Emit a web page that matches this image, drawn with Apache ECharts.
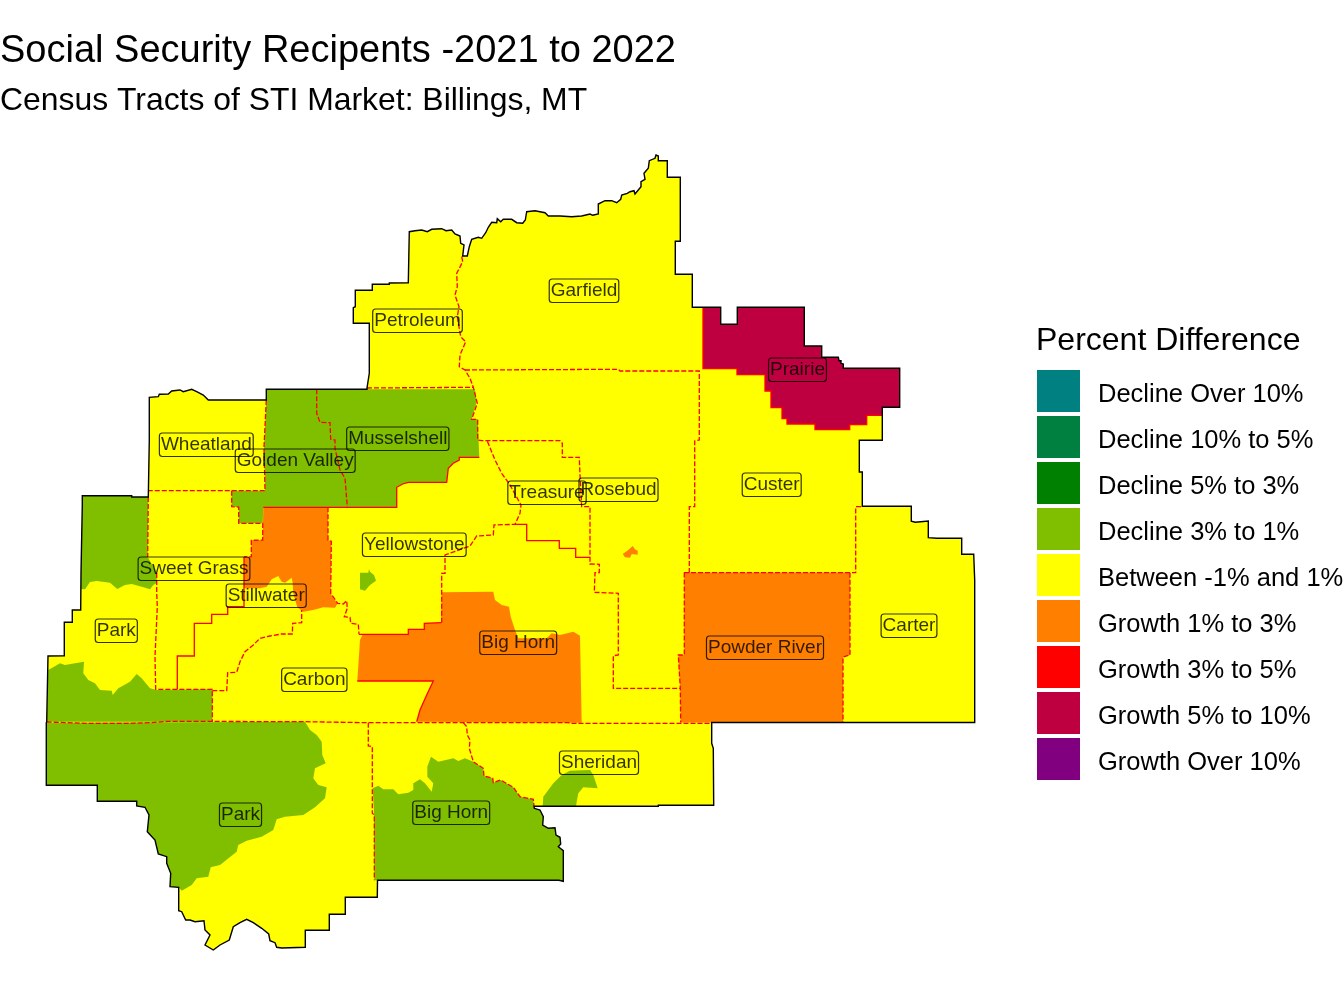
<!DOCTYPE html>
<html lang="en">
<head>
    <meta charset="utf-8">
    <title>Social Security Recipents</title>
    <script src="https://cdn.jsdelivr.net/npm/echarts@6/dist/echarts.min.js"></script>
    <style>
        html, body {margin: 0; padding: 0; background: #fff;}
        #main {width: 1344px; height: 1008px;}
    </style>
</head>
<body>
<div id="main"></div>
<script type="text/javascript">
    // legend classes, a region's value is an index into these
    var classLabels = ['Decline Over 10%', 'Decline 10% to 5%', 'Decline 5% to 3%', 'Decline 3% to 1%',
        'Between -1% and 1%', 'Growth 1% to 3%', 'Growth 3% to 5%', 'Growth 5% to 10%', 'Growth Over 10%'];
    var classColors = ['#008080', '#008040', '#008000', '#80BF00', '#FFFF00', '#FF8000', '#FF0000', '#BF0040', '#800080'];

    // map geometry, traced in map units
    var marketOutline = [[367,388],[369.3,373.3],[369.3,323.3],[353.3,323.3],[353.3,307.7],[355.3,306.7],[355.3,290.3],[372.3,290.3],[372.3,284.3],[389.3,284.3],[389.3,283],[408.3,282.7],[409.3,231.7],[415,230.7],[421.7,230],[427.3,231.7],[431.7,229.3],[441.7,228.7],[446,230.7],[451.7,230],[455,234],[460,236],[460.7,243.3],[464,245],[462.7,256],[467.3,256],[469.3,246.7],[471.7,239.3],[478.3,237.3],[481.7,238.3],[485.7,232.7],[488.3,227.3],[491.7,222.3],[496.7,222.7],[497.3,218.7],[500.7,221.7],[503.3,219.3],[511.7,219.3],[516.7,222.7],[522.7,223.3],[525.3,220],[526.7,211.7],[535,210.7],[545,212.7],[548.3,216],[560,216],[571.7,216.7],[581.7,216],[590,214],[592.7,215.3],[598.3,214],[598.3,204],[605,200.7],[611.7,200.7],[616.7,202.7],[620.7,199.3],[621.7,195],[627.3,193.3],[630,191.7],[634,190.7],[635,194],[638.3,190],[641,186.7],[641,181.7],[645,179.3],[644,173.3],[648.3,168.3],[649.3,160.7],[655,158.3],[656,155],[658.3,156],[658.3,160.7],[667.3,160.7],[667.3,177.3],[680.3,177.3],[680.3,241.3],[675.3,241.3],[675.3,274.3],[692.3,274.3],[692.3,307.3],[720.7,307.3],[720.7,324.3],[737.3,324.3],[737.3,307.3],[804.3,307.3],[804.3,346],[821.7,346],[821.7,357.3],[838.3,357.3],[839,360.7],[841,360.7],[841,363.3],[843.3,364],[843.3,368.3],[899.7,368.3],[899.7,407.3],[882.3,407.3],[882.3,440.3],[859.3,440.3],[859.3,472],[862.3,472],[862.3,506.3],[911.3,506.3],[911.3,521.3],[915.3,522.3],[928.3,521],[928.3,537.7],[936.7,538.3],[961.7,538.3],[961.7,554.3],[973.7,554.3],[974.7,580],[974.7,722.5],[711.7,722.5],[711.7,743.3],[713.3,748.3],[713.7,805.3],[658.3,805.3],[658.3,806.3],[534,806.3],[534.3,808.3],[540,810],[543.3,816.7],[542.7,825],[548.3,828.3],[555,827.7],[556,835],[560,837.3],[560.7,844],[558.3,846.7],[563.3,850.7],[563.3,881.3],[559,880.3],[377.5,880.3],[377.3,897.3],[345.3,897.3],[345.3,914.3],[329.3,914.3],[329.3,930.3],[305.3,930.3],[305.3,947.3],[281.7,948],[276.7,947.3],[275,942.7],[270,940.7],[268.7,934],[261.7,928.3],[253.3,922.7],[246.7,919.3],[240,922.7],[233.3,926.7],[229.3,940],[220,945],[213.3,950],[205,945],[210,935],[205,930],[204,920.7],[195,921.7],[190,920],[185.7,920],[181.7,911.7],[178.7,910.7],[178.7,887.3],[170,886.7],[170.7,873.3],[166.7,863.3],[166.7,856.7],[158.3,854],[155,840],[147.3,831.7],[149,815],[145,807.3],[136.7,806],[136.7,801.3],[97.3,801.3],[97.3,785.3],[46.3,785.3],[46.3,722.7],[46.7,721.7],[48,656],[64.3,655.7],[64.3,622.3],[72.3,622.3],[72.3,610],[80.7,610],[81,573.3],[82.3,505],[82.3,495.7],[131.7,495.7],[131.7,497],[148.3,497],[149.3,440],[149.3,397.3],[158.3,396.7],[159.3,394.3],[168.3,394],[171.7,391],[180,390],[183.3,391.7],[191.7,389.3],[196.7,391.7],[203.3,395],[208.3,400],[266.3,400],[266.3,389.3],[367,389.3]];
    var prairieArea = [[703,307.3],[720.7,307.3],[720.7,324.3],[737.3,324.3],[737.3,307.3],[804.3,307.3],[804.3,346],[821.7,346],[821.7,357.3],[838.3,357.3],[839,360.7],[841,360.7],[841,363.3],[843.3,364],[843.3,368.3],[899.7,368.3],[899.7,407.3],[882.3,407.3],[882.3,415.3],[866.7,415.3],[866.7,424.7],[849.7,424.7],[849.7,429.7],[815,429.7],[815,424],[787,424],[787,418.7],[782,418.7],[782,407.7],[771,407.7],[771,391],[765,391],[765,374.7],[737,374.7],[737,368.7],[703,368.7]];
    var musselshellArea = [[266.3,389.3],[475,389.3],[476.7,401.7],[471.7,419.3],[477.7,419.3],[479.3,457.3],[459.3,457.3],[459.3,460],[453.3,463.3],[448.3,468.3],[446.7,482.3],[408.3,482.3],[402.7,484],[396.7,487.3],[396.7,507.3],[263.3,507.3],[262.7,523.3],[238.7,523.3],[238.7,507],[231.7,506.7],[231.7,490.7],[265,490.7],[264,446.7],[266.3,400]];
    var stillwaterArea = [[263.3,507.3],[328,507.3],[328,540],[331.3,541.3],[330.7,593.3],[333.3,598.3],[337.7,603.3],[335,607.7],[323.3,607.3],[313.3,610],[303.3,611.7],[297.3,607.3],[293.3,593.3],[292.7,583.3],[291.7,577.7],[285,582.7],[281.7,581.7],[278.3,576],[271.7,579.3],[266.7,586.7],[260,588.3],[244,588.3],[244,557],[251.3,556.7],[251.3,540.3],[262.7,540]];
    var bigHornNorthArea = [[441.7,592.3],[493.3,591.7],[495,600],[501.7,605],[509,606.7],[510.7,616.7],[515,630],[518.3,638.3],[546.7,638.3],[551.7,633.3],[560,635],[573.3,631.7],[580,635.7],[581.7,722.7],[416.7,721.7],[420,710],[426.7,695],[433.3,681],[357.3,681],[360,640],[362.7,634.3],[408.3,634.3],[408.3,629.3],[424.3,629.3],[424.3,623.3],[441,622.7]];
    var powderRiverArea = [[684.3,572.5],[850,572.5],[850,655],[843,657],[843,722.5],[680.7,722.5],[680.3,688.3],[678.3,655],[684.3,655]];
    var rosebudSpot = [[622.7,554],[628.3,550],[632.7,546],[635,549.3],[637.7,550.7],[637.7,554.7],[631.7,554],[630,557.7],[625,557.3]];
    var yellowstoneSpot = [[360,572.7],[368.3,572.7],[369,569],[370,571.7],[374,575],[376,580.7],[370,585],[365,590.7],[360,589.3]];
    var sweetGrassArea = [[81,589],[81,573.3],[82.3,505],[82.3,495.7],[131.7,495.7],[131.7,497],[148.3,497],[147.7,557],[156.7,573],[156.7,583],[153.3,585],[150,589.3],[141.7,586.7],[131.7,584],[125,585],[117.3,589],[110,582.7],[96.7,581],[90,582],[85,589.3]];
    var parkNorthArea = [[48.3,670],[60,663.3],[65,665],[75,663.3],[84,661.7],[83.3,673.3],[88.3,680],[95,683.3],[100,690],[111.7,690.7],[112.7,695],[118.3,688.3],[130,681.7],[136.7,674],[141.7,678.3],[150,688.3],[156.7,690],[212.3,689.3],[212.3,721.7],[46.7,721.7]];
    var parkSouthArea = [[46.3,722.7],[305,721.7],[310,730],[316.7,735],[321.7,741.7],[322.3,755],[325.7,763.3],[315,768.3],[313.3,778.3],[318.3,785],[326.7,787.3],[325,798.3],[315,807.3],[303.3,815],[285,816.7],[276.7,819.3],[273.3,830],[261.7,836.7],[246.7,840.7],[238.3,845],[236.7,851.7],[220,865],[210.7,867.3],[208.3,876.7],[196.7,878.3],[191.7,885],[181.7,890.7],[178.7,887.3],[170,886.7],[170.7,873.3],[166.7,863.3],[166.7,856.7],[158.3,854],[155,840],[147.3,831.7],[149,815],[145,807.3],[136.7,806],[136.7,801.3],[97.3,801.3],[97.3,785.3],[46.3,785.3]];
    var bigHornSouthArea = [[372.7,788.3],[378.3,785.7],[383.3,789.3],[393.3,789.3],[398.3,794.3],[408.3,792.7],[413.3,790],[413.3,783.3],[420,779.3],[425,783.3],[431.7,791.7],[433.3,783.3],[427.3,776.7],[427.3,766.7],[431,756.7],[438.3,761.7],[453.3,758.3],[458.3,761],[465,758.3],[473.3,761.7],[483.3,768.3],[484,776],[492.7,778.3],[493.3,782.7],[500.7,780],[513.3,787.3],[520,796.7],[533.3,799.3],[534,806.3],[534.3,808.3],[540,810],[543.3,816.7],[542.7,825],[548.3,828.3],[555,827.7],[556,835],[560,837.3],[560.7,844],[558.3,846.7],[563.3,850.7],[563.3,881.3],[559,880.3],[374.3,880.3],[374,813.3]];
    var sheridanArea = [[542.7,806],[543.3,796.7],[553.3,783.3],[561.7,775],[570,770.7],[590,770],[593.3,775],[597.7,788.3],[583.3,787.3],[578.3,793.3],[576,806]];

    var regionNames = ['Market', 'Prairie', 'Musselshell', 'Stillwater', 'Big Horn north', 'Powder River', 'Rosebud spot', 'Yellowstone spot', 'Sweet Grass', 'Park north', 'Park south', 'Big Horn south', 'Sheridan spot'];
    var regionRings = [marketOutline, prairieArea, musselshellArea, stillwaterArea, bigHornNorthArea, powderRiverArea, rosebudSpot, yellowstoneSpot, sweetGrassArea, parkNorthArea, parkSouthArea, bigHornSouthArea, sheridanArea];
    var regionClasses = [4, 7, 3, 5, 5, 5, 5, 3, 3, 3, 3, 3, 3];

    // tract and county lines
    var dashedLines = [
        [[461.7,256.7],[462.7,261.7],[456.7,273.3],[457.3,286.7],[455,295],[459,306.7],[457.3,316.7],[460.7,336.7],[465.7,341.7],[460,355],[459.3,366.7],[465,370],[470,378.3],[473.3,387.3],[477.3,403.3],[471.7,419.3],[477.7,419.3],[477.7,440],[481.7,440.7],[560,440.7],[562.3,443.3],[562.3,457.3],[579.3,457.3],[580,475],[581.7,506.7],[590,506.7],[590,564],[599.3,564.3],[599.3,572.7],[595,572.7],[594.3,592.3],[618.3,593.3],[618.3,655],[613.3,655.7],[613.3,688.3],[680.3,688.3]],
        [[465,370],[618.3,369.3],[620,371],[699.3,371],[699.3,440],[694.7,441],[694.7,506.7],[689.3,506.7],[689.3,572.7]],
        [[684,572.7],[855.7,572.7],[855.7,506.7],[862,506.7]],
        [[367,388],[473.3,387.3]],
        [[316.7,389.3],[316.7,413.3],[320,422.3],[330,422.7],[330.7,439.3],[335,440],[335,448.3],[340,470],[345,478.3],[347.3,506.7]],
        [[266.3,400],[264,446.7],[265,490.7],[148.7,490.7]],
        [[231.7,490.7],[231.7,506.7],[238.7,507],[238.7,523.3],[262.7,523.3],[262.7,540],[251.3,540.3],[251.3,556.7],[244,557]],
        [[148.3,497],[147.7,557]],
        [[156.7,573],[156.7,593.3],[157.3,606.7],[155,656.7],[155.7,689.3],[212.3,689.3],[212.3,721.7]],
        [[212.3,690.7],[226.7,690.7],[227.7,672.7],[236.7,672.3],[240,661.7],[245,651.7],[253.3,645],[260,638.3],[270,636],[281.7,634],[292.3,634],[292.7,623.3],[301.7,622.7],[301.7,610]],
        [[328,507.3],[328,540],[331.3,541.3],[330.7,593.3],[337.7,603.3],[343.3,604],[346.7,600.7],[347.3,608.3],[344.3,616.7],[350,617.3],[350.7,623.3],[358.3,624.3],[359,634.3]],
        [[441.7,622.7],[441.7,573.3],[445,573.3],[445,555],[470,546],[476.7,536],[493.3,535],[494,525],[515,524.3],[520,513.3],[521,505],[510,485],[501.7,473.3],[495,460],[487.3,441]],
        [[46.7,722],[85,723.3],[130,723.3],[150,722.7],[168,721.3],[305,721.7],[368.3,722.7],[463.3,722.7],[568.3,722.7],[570,723.3],[711.7,723.3]],
        [[463.3,722.7],[466.7,726.7],[467.3,735],[470,740],[469.3,748.3],[473.3,761.7],[483.3,768.3],[484,776],[492.7,778.3],[493.3,782.7],[500.7,780],[513.3,787.3],[520,796.7],[533.3,799.3],[534,806.3]],
        [[368.3,722.7],[368.3,746],[372.3,746.7],[372.3,813.3],[374.3,815],[374.3,880.3]],
        [[850,572.7],[850,655],[843,657],[843,722.5]],
        [[684.3,572.5],[684.3,655],[678.3,655],[680.3,688.3],[680.7,722.5]]
    ];
    var solidLines = [
        [[244,557],[244,606.7],[227.7,606.7],[227.7,614.3],[211.7,614.3],[211.7,623.3],[194.3,623.3],[194.3,656],[177.3,656],[177.3,689.3]],
        [[515,524.3],[526.7,524.3],[526.7,540.7],[559.3,540.7],[559.3,548.3],[575.7,548.3],[575.7,557.3],[590,557.3]],
        [[479.3,457.3],[459.3,457.3],[459.3,460],[453.3,463.3],[448.3,468.3],[446.7,482.3],[408.3,482.3],[402.7,484],[396.7,487.3],[396.7,507.3],[263.3,507.3]],
        [[359,634.3],[408.3,634.3],[408.3,629.3],[424.3,629.3],[424.3,623.3],[441,622.7]],
        [[357.3,681],[433.3,681],[426.7,695],[420,710],[416.7,721.7]],
        [[703,307.3],[703,368.7],[737,368.7],[737,374.7],[765,374.7],[765,391],[771,391],[771,407.7],[782,407.7],[782,418.7],[787,418.7],[787,424],[815,424],[815,429.7],[849.7,429.7],[849.7,424.7],[866.7,424.7],[866.7,415.3],[882.3,415.3]]
    ];

    // boxed labels
    var labelNames = ['Garfield', 'Petroleum', 'Prairie', 'Custer', 'Wheatland', 'Golden Valley', 'Musselshell', 'Sweet Grass', 'Stillwater', 'Park', 'Carbon', 'Yellowstone', 'Treasure', 'Rosebud', 'Big Horn', 'Powder River', 'Carter', 'Sheridan', 'Big Horn', 'Park'];
    var labelSpots = [[584,290],[417.5,320],[797.5,369],[771.7,484],[206.3,444],[295.2,460],[397.8,438],[194,568],[266.2,595],[116.3,630],[314.3,679],[414.3,544],[547,492],[618.5,489],[518.2,642],[765,647],[909,625],[599,762],[451.2,812],[240.5,814]];

    var fontName = '"Liberation Sans", Arial, sans-serif';

    var myChart = echarts.init(document.getElementById('main'), null, {renderer: 'canvas'});

    var features = regionNames.map(function (name, i) {
        return {type: 'Feature', properties: {name: name}, geometry: {type: 'Polygon', coordinates: [regionRings[i]]}};
    });
    echarts.registerMap('market', {type: 'FeatureCollection', features: features});

    var xs = marketOutline.map(function (p) { return p[0]; });
    var ys = marketOutline.map(function (p) { return p[1]; });
    var minX = Math.min.apply(null, xs), maxX = Math.max.apply(null, xs);
    var minY = Math.min.apply(null, ys), maxY = Math.max.apply(null, ys);

    function toLineData(list) {
        return list.map(function (coords) { return {coords: coords}; });
    }

    var option = {
        animation: false,
        title: [
            {text: 'Social Security Recipents -2021 to 2022', left: 0, top: 33, padding: 0, textStyle: {fontFamily: fontName, fontSize: 38, fontWeight: 'normal', color: '#000'}},
            {text: 'Census Tracts of STI Market: Billings, MT', left: 0, top: 85, padding: 0, textStyle: {fontFamily: fontName, fontSize: 31.9, fontWeight: 'normal', color: '#000'}},
            {text: 'Percent Difference', left: 1036, top: 325, padding: 0, textStyle: {fontFamily: fontName, fontSize: 32, fontWeight: 'normal', color: '#000'}}
        ],
        geo: {
            map: 'market',
            roam: false,
            silent: true,
            projection: {
                project: function (p) { return [p[0], p[1]]; },
                unproject: function (p) { return [p[0], p[1]]; }
            },
            left: minX,
            top: minY,
            width: maxX - minX,
            height: maxY - minY,
            label: {show: false},
            itemStyle: {areaColor: '#FFFF00', borderWidth: 0}
        },
        visualMap: {
            type: 'piecewise',
            seriesIndex: 0,
            left: 1037,
            top: 370,
            padding: 0,
            inverse: true,
            align: 'left',
            itemWidth: 43,
            itemHeight: 42,
            itemGap: 4,
            textGap: 18,
            itemSymbol: 'rect',
            selectedMode: false,
            hoverLink: false,
            textStyle: {fontFamily: fontName, fontSize: 25.5, color: '#000', verticalAlign: 'top', lineHeight: 8},
            pieces: classLabels.map(function (label, i) {
                return {value: i, label: label, color: classColors[i]};
            })
        },
        series: [
            {
                type: 'map',
                geoIndex: 0,
                silent: true,
                data: regionNames.map(function (name, i) {
                    return {name: name, value: regionClasses[i]};
                })
            },
            {
                type: 'lines',
                coordinateSystem: 'geo',
                polyline: true,
                silent: true,
                lineStyle: {color: '#FF0000', width: 1.3, type: [5, 2], opacity: 1},
                data: toLineData(dashedLines)
            },
            {
                type: 'lines',
                coordinateSystem: 'geo',
                polyline: true,
                silent: true,
                lineStyle: {color: '#FF0000', width: 1.3, opacity: 1},
                data: toLineData(solidLines)
            },
            {
                type: 'lines',
                coordinateSystem: 'geo',
                polyline: true,
                silent: true,
                lineStyle: {color: '#000', width: 1.4, opacity: 1},
                data: toLineData([marketOutline.concat([marketOutline[0]])])
            },
            {
                type: 'scatter',
                coordinateSystem: 'geo',
                symbolSize: 0,
                silent: true,
                z: 5,
                label: {
                    show: true,
                    position: 'inside',
                    offset: [0, 0.75],
                    formatter: '{b}',
                    fontFamily: fontName,
                    fontSize: 19,
                    lineHeight: 19,
                    color: '#000',
                    borderColor: '#000',
                    borderWidth: 1.2,
                    borderRadius: 3,
                    padding: [4.5, 1.5, 0, 1.5]
                },
                data: labelNames.map(function (name, i) {
                    return {name: name, value: [labelSpots[i][0], labelSpots[i][1]]};
                })
            }
        ]
    };
    myChart.setOption(option);
</script>
</body>
</html>
